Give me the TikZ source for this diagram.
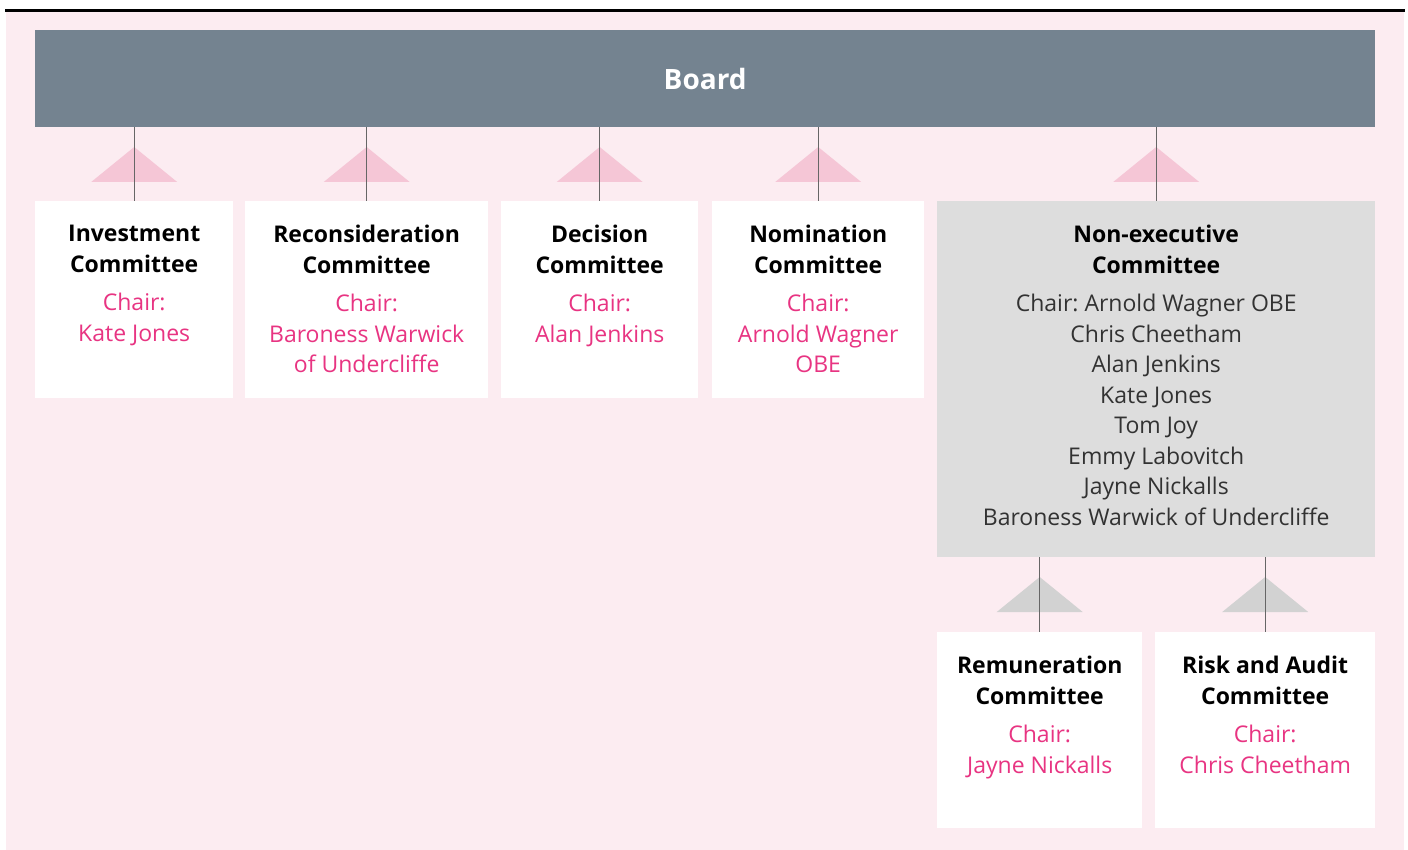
\documentclass[tikz,border=0pt]{standalone}
\usepackage{fontspec}
\setmainfont{Open Sans}
\usetikzlibrary{positioning}
\definecolor{bgpink}{RGB}{252,236,241}
\definecolor{boardgrey}{RGB}{116,131,144}
\definecolor{tripink}{RGB}{245,198,214}
\definecolor{trigrey}{RGB}{210,210,210}
\definecolor{nedgrey}{RGB}{221,221,221}
\definecolor{chairpink}{RGB}{232,52,130}
\definecolor{membergrey}{RGB}{50,50,50}
\frenchspacing
\newcommand\chairtxt[1]{{\color{chairpink}#1}}
\newcommand\uptri[2]{\fill[#2] (#1) ++(-43,0) -- ++(43,-35) -- ++(43,35) -- cycle;}
\tikzset{
  boxstyle/.style={rectangle, fill=white, anchor=north west, inner sep=0pt},
  txtstyle/.style={anchor=north, align=center, inner sep=0pt,
    font=\fontsize{23}{30.5}\selectfont},
  linkstyle/.style={draw=black!60, line width=1pt}
}
\begin{document}
\begin{tikzpicture}[x=1pt,y=-1pt]
  \useasboundingbox (0,0) rectangle (1408,850);
  \fill[bgpink] (6,12) rectangle (1404,850);
  \draw[line width=3pt] (5,11) -- (1405,11);
  % board
  \node[boxstyle, fill=boardgrey, minimum width=1340pt, minimum height=97pt] (board) at (35,30) {};
  \node[font=\fontsize{28}{30}\selectfont\bfseries, text=white] (boardtxt) at (board.center) {Board};
  % first row of committees
  \node[boxstyle, minimum width=198pt, minimum height=197pt] (invest) at (35,201) {};
  \node[boxstyle, minimum width=243pt, minimum height=197pt] (recon) at (245,201) {};
  \node[boxstyle, minimum width=197pt, minimum height=197pt] (decis) at (501,201) {};
  \node[boxstyle, minimum width=212pt, minimum height=197pt] (nomin) at (712,201) {};
  \node[boxstyle, fill=nedgrey, minimum width=438pt, minimum height=356pt] (nonex) at (937,201) {};
  \node[txtstyle] (investtxt) at ([yshift=-24pt]invest.north)
    {\textbf{Investment}\\\textbf{Committee}\\[8pt]\chairtxt{Chair:}\\\chairtxt{Kate Jones}};
  \node[txtstyle] (recontxt) at ([yshift=-24pt]recon.north)
    {\textbf{Reconsideration}\\\textbf{Committee}\\[8pt]\chairtxt{Chair:}\\\chairtxt{Baroness Warwick}\\\chairtxt{of Undercliffe}};
  \node[txtstyle] (decistxt) at ([yshift=-24pt]decis.north)
    {\textbf{Decision}\\\textbf{Committee}\\[8pt]\chairtxt{Chair:}\\\chairtxt{Alan Jenkins}};
  \node[txtstyle] (nomintxt) at ([yshift=-24pt]nomin.north)
    {\textbf{Nomination}\\\textbf{Committee}\\[8pt]\chairtxt{Chair:}\\\chairtxt{Arnold Wagner}\\\chairtxt{OBE}};
  \node[txtstyle, text=membergrey] (nonextxt) at ([yshift=-24pt]nonex.north)
    {{\color{black}\textbf{Non-executive}}\\{\color{black}\textbf{Committee}}\\[8pt]Chair: Arnold Wagner OBE\\Chris Cheetham\\Alan Jenkins\\Kate Jones\\Tom Joy\\Emmy Labovitch\\Jayne Nickalls\\Baroness Warwick of Undercliffe};
  % second row
  \node[boxstyle, minimum width=205pt, minimum height=196pt] (remun) at (937,632) {};
  \node[boxstyle, minimum width=220pt, minimum height=196pt] (risk) at (1155,632) {};
  \node[txtstyle] (remuntxt) at ([yshift=-24pt]remun.north)
    {\textbf{Remuneration}\\\textbf{Committee}\\[8pt]\chairtxt{Chair:}\\\chairtxt{Jayne Nickalls}};
  \node[txtstyle] (risktxt) at ([yshift=-24pt]risk.north)
    {\textbf{Risk and Audit}\\\textbf{Committee}\\[8pt]\chairtxt{Chair:}\\\chairtxt{Chris Cheetham}};
  % triangles and links
  \foreach \c in {invest,recon,decis,nomin,nonex}{
    \coordinate (\c-tri) at ([yshift=19pt]\c.north);
    \uptri{\c-tri}{tripink}
    \draw[linkstyle] (\c.north |- board.south) -- (\c.north);
  }
  \foreach \c in {remun,risk}{
    \coordinate (\c-tri) at ([yshift=20pt]\c.north);
    \uptri{\c-tri}{trigrey}
    \draw[linkstyle] (\c.north |- nonex.south) -- (\c.north);
  }
\end{tikzpicture}
\end{document}
